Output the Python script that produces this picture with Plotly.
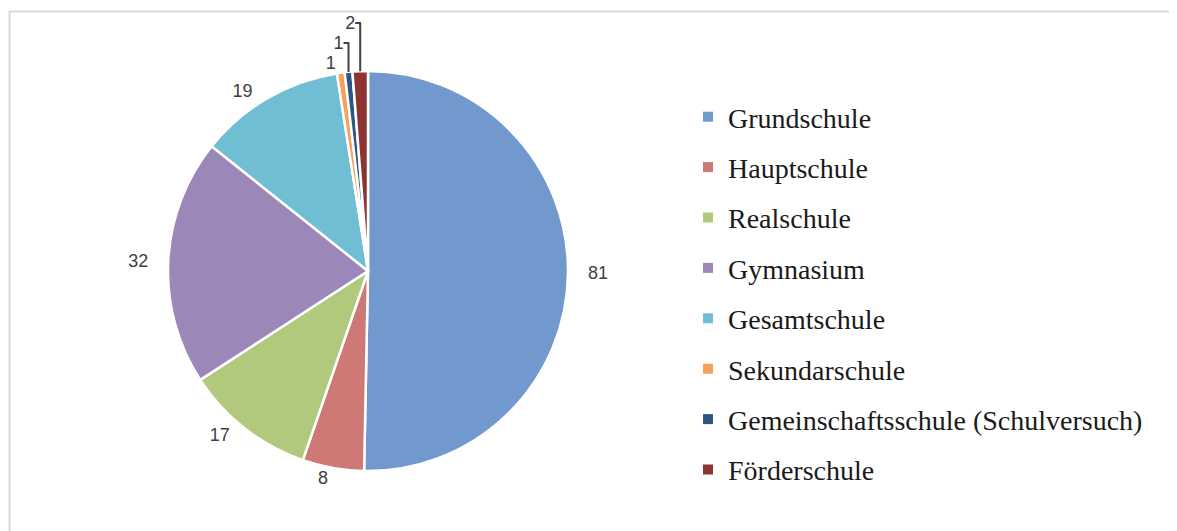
import plotly.graph_objects as go

schulform = ['Grundschule', 'Hauptschule', 'Realschule', 'Gymnasium', 'Gesamtschule',
             'Sekundarschule', 'Gemeinschaftsschule (Schulversuch)', 'Förderschule']
anzahl = [81, 8, 17, 32, 19, 1, 1, 2]
farben = ['#7199cd', '#cf7977', '#b0c97c', '#9c87b9', '#6fbed3', '#f7a05a', '#2e5586', '#8c3432']

W, H = 1177, 531
sp = '\u00a0'
# a little blank space so the side labels sit further from the pie
label_fmt = [sp * 3 + '%{value}', '%{value}', '%{value}' + sp * 2,
             '%{value}' + sp * 3, '%{value}' + sp * 2,
             '%{value}', '%{value}', '%{value}']

# page body has an 8px margin, so positions below are shifted by -8px
fig = go.Figure()

fig.add_trace(go.Pie(
    labels=schulform, values=anzahl,
    sort=False, direction='clockwise', rotation=0,
    marker=dict(colors=farben, line=dict(color='white', width=2.5)),
    texttemplate=label_fmt, textposition='outside',
    outsidetextfont=dict(family='Liberation Sans', size=18, color='#404040'),
    domain=dict(x=[160/W, 560/W], y=[1 - 463/H, 1 - 63/H]),
    showlegend=False,
))

# legend entries (pie legend can't be spaced out, so use empty scatter traces)
for name, col in zip(schulform, farben):
    fig.add_trace(go.Scatter(
        x=[None], y=[None], mode='markers', name=name,
        legendgroup=name,
        marker=dict(symbol='square', size=10, color=col),
    ))

fig.update_layout(
    width=W, height=H,
    margin=dict(l=0, r=0, t=0, b=0),
    paper_bgcolor='white', plot_bgcolor='white',
    xaxis=dict(visible=False), yaxis=dict(visible=False),
    legend=dict(
        x=680/W, y=1 - 84/H, xanchor='left', yanchor='top',
        font=dict(family='Liberation Serif', size=28, color='#1a1a1a'),
        traceorder='grouped', tracegroupgap=11,
        bgcolor='rgba(0,0,0,0)',
    ),
    shapes=[dict(type='rect', xref='paper', yref='paper',
                 x0=1.5/W, x1=1168/W, y0=-0.05, y1=1 - 3.5/H,
                 line=dict(color='#d9d9d9', width=2))],
)

fig.write_html("out.html")
